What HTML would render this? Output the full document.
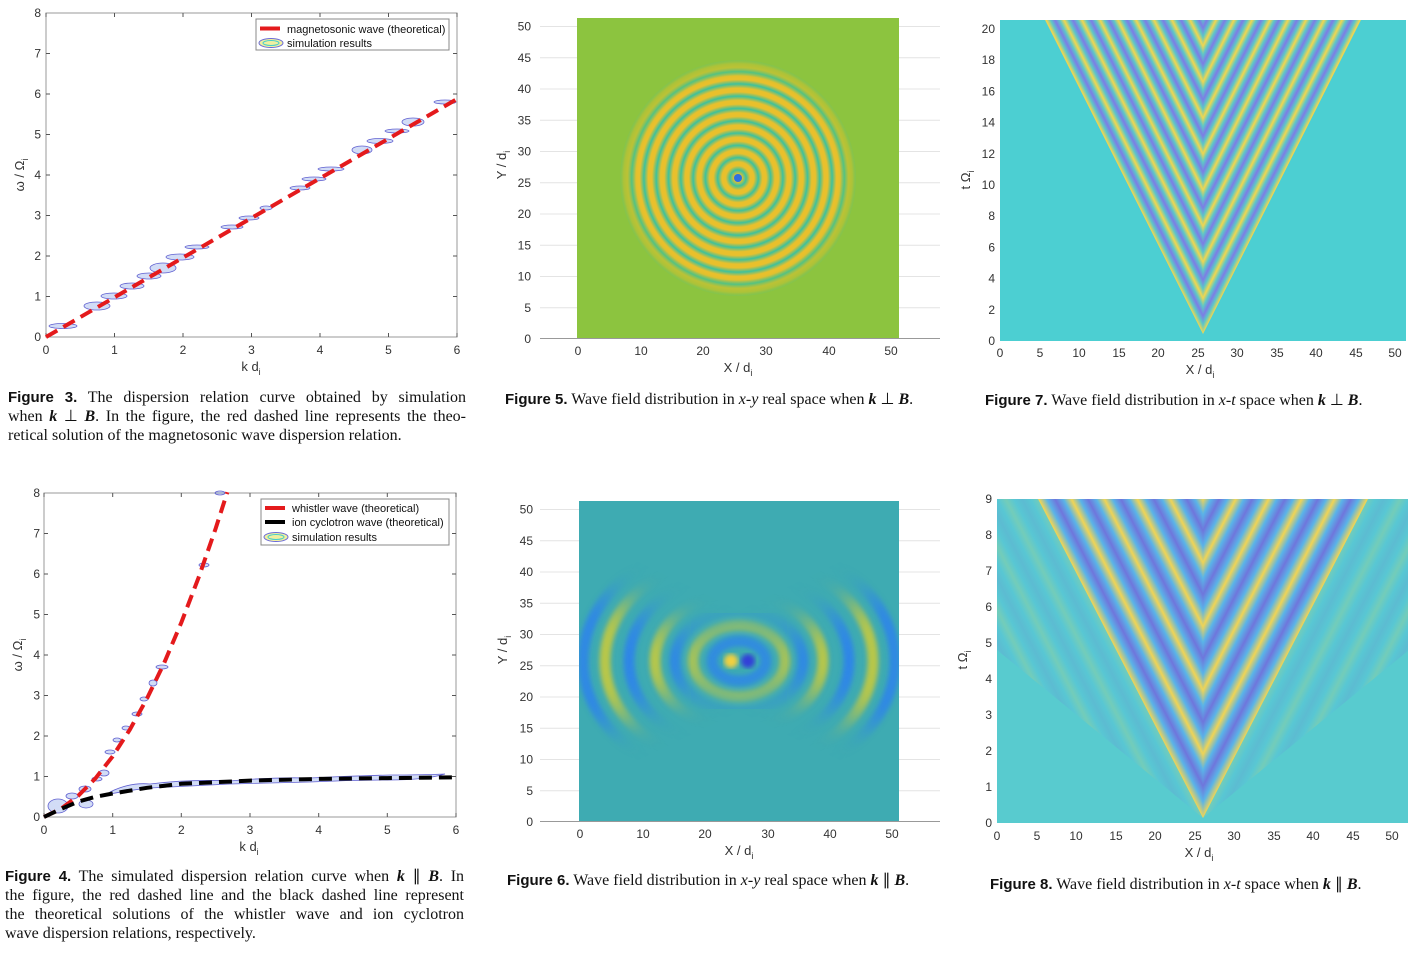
<!DOCTYPE html>
<html><head><meta charset="utf-8"><style>
html,body{margin:0;padding:0;background:#fff;}
body{width:1422px;height:953px;position:relative;overflow:hidden;}
svg{position:absolute;left:0;top:0;}
.cl{position:absolute;font-family:"Liberation Serif",serif;font-size:16px;line-height:19px;color:#111;text-align:justify;text-align-last:justify;white-space:nowrap;}
.cl.last{text-align-last:left;}
.cc{position:absolute;font-family:"Liberation Serif",serif;font-size:16px;line-height:19px;color:#111;white-space:nowrap;}
b.f{font-family:"Liberation Sans",sans-serif;font-size:15px;font-weight:bold;}
i{font-style:italic;}
.bi{font-weight:bold;font-style:italic;}
</style></head><body>
<svg width="1422" height="953" viewBox="0 0 1422 953" font-family="Liberation Sans, sans-serif">
<defs>
<radialGradient id="rings" gradientUnits="userSpaceOnUse" cx="738" cy="178" r="12.3" spreadMethod="repeat">
<stop offset="0" stop-color="#e9c02c"/><stop offset="0.3" stop-color="#e9c02c"/><stop offset="0.65" stop-color="#3dc19c"/><stop offset="1" stop-color="#e9c02c"/>
</radialGradient>
<radialGradient id="fade5" gradientUnits="userSpaceOnUse" cx="738" cy="178" r="122">
<stop offset="0.82" stop-color="#8cc43f" stop-opacity="0"/><stop offset="1" stop-color="#8cc43f" stop-opacity="1"/>
</radialGradient>
<linearGradient id="st7" gradientUnits="userSpaceOnUse" x1="1203" y1="334" x2="1217.4" y2="326.8" spreadMethod="repeat">
<stop offset="0" stop-color="#f2d64e"/><stop offset="0.25" stop-color="#5cc8c8"/><stop offset="0.5" stop-color="#7d7ce6"/><stop offset="0.75" stop-color="#5cc8c8"/><stop offset="1" stop-color="#f2d64e"/>
</linearGradient>
<linearGradient id="st8" gradientUnits="userSpaceOnUse" x1="1203" y1="818" x2="1229" y2="804.6" spreadMethod="repeat">
<stop offset="0" stop-color="#f0d455"/><stop offset="0.25" stop-color="#5ab4e8"/><stop offset="0.5" stop-color="#6f76dc"/><stop offset="0.75" stop-color="#5ab4e8"/><stop offset="1" stop-color="#f0d455"/>
</linearGradient>
<filter id="blur8"><feGaussianBlur stdDeviation="18"/></filter>
<filter id="blur2"><feGaussianBlur stdDeviation="2.5"/></filter>
<mask id="bow" maskUnits="userSpaceOnUse" x="560" y="480" width="360" height="360">
<polygon points="739,661 560,575 560,747" fill="#fff" filter="url(#blur8)"/>
<polygon points="739,661 918,575 918,747" fill="#fff" filter="url(#blur8)"/>
<circle cx="739" cy="661" r="40" fill="#fff" filter="url(#blur8)"/>
</mask>
<clipPath id="c6"><rect x="579" y="501" width="320" height="320"/></clipPath>
<clipPath id="c8"><rect x="997" y="499" width="411" height="324"/></clipPath>
</defs>

<!-- ========== Figure 3 ========== -->
<g>
<rect x="46" y="13" width="411" height="324" fill="#fff" stroke="#999" stroke-width="1"/>
<g stroke="#555" stroke-width="1">
<path d="M46,337v-4M114.5,337v-4M183,337v-4M251.5,337v-4M320,337v-4M388.5,337v-4M457,337v-4 M46,13v4M114.5,13v4M183,13v4M251.5,13v4M320,13v4M388.5,13v4M457,13v4"/>
<path d="M46,296.5h4M46,256h4M46,215.5h4M46,175h4M46,134.5h4M46,94h4M46,53.5h4 M457,296.5h-4M457,256h-4M457,215.5h-4M457,175h-4M457,134.5h-4M457,94h-4M457,53.5h-4"/>
</g>
<g font-size="12" fill="#333" text-anchor="end">
<text x="41" y="341">0</text><text x="41" y="300.5">1</text><text x="41" y="260">2</text><text x="41" y="219.5">3</text><text x="41" y="179">4</text><text x="41" y="138.5">5</text><text x="41" y="98">6</text><text x="41" y="57.5">7</text><text x="41" y="17">8</text>
</g>
<g font-size="12" fill="#333" text-anchor="middle">
<text x="46" y="354">0</text><text x="114.5" y="354">1</text><text x="183" y="354">2</text><text x="251.5" y="354">3</text><text x="320" y="354">4</text><text x="388.5" y="354">5</text><text x="457" y="354">6</text>
<text x="251" y="371" font-size="13">k d<tspan font-size="9" dy="4">i</tspan></text>
</g>
<text transform="translate(24,175) rotate(-90)" font-size="13" fill="#333" text-anchor="middle">ω / Ω<tspan font-size="9" dy="4">i</tspan></text>
<g fill="#6a8be0" fill-opacity="0.3" stroke="#6060d0" stroke-width="0.8">
<ellipse cx="63" cy="326" rx="14" ry="2.5"/><ellipse cx="97" cy="306" rx="13" ry="4"/><ellipse cx="114" cy="296" rx="13" ry="3"/><ellipse cx="132" cy="286" rx="12" ry="3"/><ellipse cx="149" cy="276" rx="12" ry="3"/><ellipse cx="163" cy="268" rx="13" ry="5"/><ellipse cx="180" cy="257" rx="14" ry="3"/><ellipse cx="197" cy="247" rx="12" ry="2"/><ellipse cx="232" cy="227" rx="11" ry="2"/><ellipse cx="249" cy="218" rx="10" ry="2"/><ellipse cx="266" cy="208" rx="6" ry="2"/><ellipse cx="300" cy="188" rx="10" ry="2"/><ellipse cx="314" cy="179" rx="12" ry="2"/><ellipse cx="331" cy="169" rx="13" ry="2"/><ellipse cx="362" cy="150" rx="10" ry="4"/><ellipse cx="380" cy="141" rx="13" ry="2.5"/><ellipse cx="397" cy="131" rx="12" ry="2"/><ellipse cx="413" cy="122" rx="11" ry="4"/><ellipse cx="445" cy="102" rx="11" ry="2"/>
</g>
<line x1="46" y1="337" x2="457" y2="99" stroke="#e41a1c" stroke-width="4" stroke-dasharray="13,7"/>
<rect x="256" y="19" width="193" height="31" fill="#fff" stroke="#888" stroke-width="1"/>
<line x1="260" y1="28.5" x2="280" y2="28.5" stroke="#e41a1c" stroke-width="4"/>
<ellipse cx="271" cy="43" rx="12" ry="4.5" fill="#f0f0a0" stroke="#6a6ad8" stroke-width="1"/>
<ellipse cx="271" cy="43" rx="8" ry="2.5" fill="none" stroke="#4cc" stroke-width="1"/>
<text x="287" y="33" font-size="11" fill="#111">magnetosonic wave (theoretical)</text>
<text x="287" y="47" font-size="11" fill="#111">simulation results</text>
</g>

<!-- ========== Figure 4 ========== -->
<g>
<rect x="44" y="493" width="412" height="324" fill="#fff" stroke="#999" stroke-width="1"/>
<g stroke="#555" stroke-width="1">
<path d="M44,817v-4M112.7,817v-4M181.3,817v-4M250,817v-4M318.7,817v-4M387.3,817v-4M456,817v-4 M44,493v4M112.7,493v4M181.3,493v4M250,493v4M318.7,493v4M387.3,493v4M456,493v4"/>
<path d="M44,776.5h4M44,736h4M44,695.5h4M44,655h4M44,614.5h4M44,574h4M44,533.5h4 M456,776.5h-4M456,736h-4M456,695.5h-4M456,655h-4M456,614.5h-4M456,574h-4M456,533.5h-4"/>
</g>
<g font-size="12" fill="#333" text-anchor="end">
<text x="40" y="821">0</text><text x="40" y="780.5">1</text><text x="40" y="740">2</text><text x="40" y="699.5">3</text><text x="40" y="659">4</text><text x="40" y="618.5">5</text><text x="40" y="578">6</text><text x="40" y="537.5">7</text><text x="40" y="497">8</text>
</g>
<g font-size="12" fill="#333" text-anchor="middle">
<text x="44" y="834">0</text><text x="112.7" y="834">1</text><text x="181.3" y="834">2</text><text x="250" y="834">3</text><text x="318.7" y="834">4</text><text x="387.3" y="834">5</text><text x="456" y="834">6</text>
<text x="249" y="851" font-size="13">k d<tspan font-size="9" dy="4">i</tspan></text>
</g>
<text transform="translate(22,655) rotate(-90)" font-size="13" fill="#333" text-anchor="middle">ω / Ω<tspan font-size="9" dy="4">i</tspan></text>
<g fill="#6a8be0" fill-opacity="0.3" stroke="#6060d0" stroke-width="0.8">
<ellipse cx="58" cy="806" rx="10" ry="7"/><ellipse cx="72" cy="796" rx="6" ry="3"/><ellipse cx="85" cy="789" rx="6" ry="3"/><ellipse cx="86" cy="804" rx="7" ry="4"/><ellipse cx="97" cy="779" rx="5" ry="2"/><ellipse cx="104" cy="773" rx="5" ry="3"/><ellipse cx="110" cy="752" rx="5" ry="2"/><ellipse cx="117" cy="740" rx="4" ry="2"/><ellipse cx="126" cy="728" rx="4" ry="2"/><ellipse cx="137" cy="714" rx="5" ry="2"/><ellipse cx="144" cy="699" rx="4" ry="2"/><ellipse cx="153" cy="683" rx="4" ry="3"/><ellipse cx="162" cy="667" rx="6" ry="2"/><ellipse cx="204" cy="565" rx="5" ry="2"/><ellipse cx="220" cy="493" rx="5" ry="2"/>
<path d="M110,792 q20,-10 40,-8 q40,-5 80,-3 q40,-4 80,-3 q40,-2 80,-3 q30,0 55,-1 q-20,6 -55,6 q-40,0 -80,2 q-40,1 -80,2 q-40,2 -80,4 q-20,2 -40,6z"/>
</g>
<polyline points="44,817 61.2,808.7 78.3,795.7 95.5,778.3 112.7,756.3 129.8,729.7 147,698.5 164.2,662.9 181.3,622.6 198.5,577.8 215.7,528.4 227.3,492.2" fill="none" stroke="#e41a1c" stroke-width="4" stroke-dasharray="13,7"/>
<polyline points="44,817 61.2,808.9 78.3,801.6 95.5,796.8 112.7,793.5 147,787.8 181.3,783.8 250,780.6 318.7,778.9 387.4,778.1 456,777.3" fill="none" stroke="#000" stroke-width="4" stroke-dasharray="13,7"/>
<rect x="261" y="499" width="188" height="46" fill="#fff" stroke="#888" stroke-width="1"/>
<line x1="265" y1="508" x2="285" y2="508" stroke="#e41a1c" stroke-width="4"/>
<line x1="265" y1="522" x2="285" y2="522" stroke="#000" stroke-width="4"/>
<ellipse cx="276" cy="537" rx="12" ry="4.5" fill="#f0f0a0" stroke="#6a6ad8" stroke-width="1"/>
<ellipse cx="276" cy="537" rx="8" ry="2.5" fill="none" stroke="#4cc" stroke-width="1"/>
<text x="292" y="512" font-size="11" fill="#111">whistler wave (theoretical)</text>
<text x="292" y="526" font-size="11" fill="#111">ion cyclotron wave (theoretical)</text>
<text x="292" y="541" font-size="11" fill="#111">simulation results</text>
</g>

<!-- ========== Figure 5 ========== -->
<g>
<g stroke="#e4e4e4" stroke-width="1">
<path d="M540,26.5h400M540,57.8h400M540,89h400M540,120.3h400M540,151.5h400M540,182.8h400M540,214h400M540,245.3h400M540,276.5h400M540,307.8h400"/>
</g>
<line x1="540" y1="338.5" x2="940" y2="338.5" stroke="#999"/>
<rect x="577" y="18" width="322" height="320" fill="#8cc43f"/>
<circle cx="738" cy="178" r="118" fill="url(#rings)"/>
<circle cx="738" cy="178" r="122" fill="url(#fade5)"/>
<circle cx="738" cy="178" r="4" fill="#2f6fe0"/>
<g font-size="12" fill="#333" text-anchor="end">
<text x="531" y="343">0</text><text x="531" y="312">5</text><text x="531" y="280.5">10</text><text x="531" y="249.5">15</text><text x="531" y="218">20</text><text x="531" y="187">25</text><text x="531" y="155.5">30</text><text x="531" y="124.5">35</text><text x="531" y="93">40</text><text x="531" y="62">45</text><text x="531" y="30.5">50</text>
</g>
<g font-size="12" fill="#333" text-anchor="middle">
<text x="578" y="355">0</text><text x="641" y="355">10</text><text x="703" y="355">20</text><text x="766" y="355">30</text><text x="829" y="355">40</text><text x="891" y="355">50</text>
<text x="738" y="372" font-size="13">X / d<tspan font-size="9" dy="4">i</tspan></text>
</g>
<text transform="translate(506,165) rotate(-90)" font-size="13" fill="#333" text-anchor="middle">Y / d<tspan font-size="9" dy="4">i</tspan></text>
</g>

<!-- ========== Figure 6 ========== -->
<g>
<g stroke="#e4e4e4" stroke-width="1">
<path d="M540,509.5h400M540,540.8h400M540,572h400M540,603.3h400M540,634.5h400M540,665.8h400M540,697h400M540,728.3h400M540,759.5h400M540,790.8h400"/>
</g>
<line x1="540" y1="821.5" x2="940" y2="821.5" stroke="#999"/>
<rect x="579" y="501" width="320" height="320" fill="#3eabb2"/>
<g clip-path="url(#c6)" mask="url(#bow)" fill="none" stroke-width="11" filter="url(#blur2)">
<ellipse cx="739" cy="661" rx="27" ry="20" stroke="#2f86e6"/>
<ellipse cx="739" cy="661" rx="46" ry="36" stroke="#b8c64a"/>
<ellipse cx="739" cy="661" rx="64" ry="52" stroke="#2f86e6"/>
<ellipse cx="739" cy="661" rx="84" ry="68" stroke="#b8c64a"/>
<ellipse cx="739" cy="661" rx="110" ry="88" stroke="#2f86e6"/>
<ellipse cx="739" cy="661" rx="134" ry="106" stroke="#b8c64a"/>
<ellipse cx="739" cy="661" rx="156" ry="122" stroke="#2f86e6"/>
</g>
<circle cx="731" cy="661" r="7" fill="#f0d040" filter="url(#blur2)"/>
<circle cx="748" cy="661" r="7" fill="#3040d8" filter="url(#blur2)"/>
<g font-size="12" fill="#333" text-anchor="end">
<text x="533" y="826">0</text><text x="533" y="795">5</text><text x="533" y="763.5">10</text><text x="533" y="732.5">15</text><text x="533" y="701">20</text><text x="533" y="670">25</text><text x="533" y="638.5">30</text><text x="533" y="607.5">35</text><text x="533" y="576">40</text><text x="533" y="545">45</text><text x="533" y="513.5">50</text>
</g>
<g font-size="12" fill="#333" text-anchor="middle">
<text x="580" y="838">0</text><text x="643" y="838">10</text><text x="705" y="838">20</text><text x="768" y="838">30</text><text x="830" y="838">40</text><text x="892" y="838">50</text>
<text x="739" y="855" font-size="13">X / d<tspan font-size="9" dy="4">i</tspan></text>
</g>
<text transform="translate(507,650) rotate(-90)" font-size="13" fill="#333" text-anchor="middle">Y / d<tspan font-size="9" dy="4">i</tspan></text>
</g>

<!-- ========== Figure 7 ========== -->
<g>
<rect x="1000" y="20" width="406" height="321" fill="#4ccfd2"/>
<polygon points="1203,334 1045,20 1203,20" fill="url(#st7)"/>
<g transform="translate(2406,0) scale(-1,1)">
<polygon points="1203,334 1045,20 1203,20" fill="url(#st7)"/>
</g>
<g font-size="12" fill="#333" text-anchor="end">
<text x="995" y="345">0</text><text x="995" y="314">2</text><text x="995" y="282.5">4</text><text x="995" y="251.5">6</text><text x="995" y="220">8</text><text x="995" y="189">10</text><text x="995" y="158">12</text><text x="995" y="126.5">14</text><text x="995" y="95.5">16</text><text x="995" y="64">18</text><text x="995" y="33">20</text>
</g>
<g font-size="12" fill="#333" text-anchor="middle">
<text x="1000" y="357">0</text><text x="1040" y="357">5</text><text x="1079" y="357">10</text><text x="1119" y="357">15</text><text x="1158" y="357">20</text><text x="1198" y="357">25</text><text x="1237" y="357">30</text><text x="1277" y="357">35</text><text x="1316" y="357">40</text><text x="1356" y="357">45</text><text x="1395" y="357">50</text>
<text x="1200" y="374" font-size="13">X / d<tspan font-size="9" dy="4">i</tspan></text>
</g>
<text transform="translate(970,180) rotate(-90)" font-size="13" fill="#333" text-anchor="middle">t Ω<tspan font-size="9" dy="4">i</tspan></text>
</g>

<!-- ========== Figure 8 ========== -->
<g>
<rect x="997" y="499" width="411" height="324" fill="#58cbcf"/>
<g clip-path="url(#c8)">
<polygon points="1203,818 997,650 997,499 1203,499" fill="url(#st8)" opacity="0.18"/>
<polygon points="1203,818 1038,499 1203,499" fill="url(#st8)"/>
<g transform="translate(2406,0) scale(-1,1)">
<polygon points="1203,818 997,650 997,499 1203,499" fill="url(#st8)" opacity="0.18"/>
<polygon points="1203,818 1038,499 1203,499" fill="url(#st8)"/>
</g>
</g>
<g font-size="12" fill="#333" text-anchor="end">
<text x="992" y="827">0</text><text x="992" y="791">1</text><text x="992" y="755">2</text><text x="992" y="719">3</text><text x="992" y="683">4</text><text x="992" y="647">5</text><text x="992" y="611">6</text><text x="992" y="575">7</text><text x="992" y="539">8</text><text x="992" y="503">9</text>
</g>
<g font-size="12" fill="#333" text-anchor="middle">
<text x="997" y="840">0</text><text x="1037" y="840">5</text><text x="1076" y="840">10</text><text x="1116" y="840">15</text><text x="1155" y="840">20</text><text x="1195" y="840">25</text><text x="1234" y="840">30</text><text x="1274" y="840">35</text><text x="1313" y="840">40</text><text x="1353" y="840">45</text><text x="1392" y="840">50</text>
<text x="1199" y="857" font-size="13">X / d<tspan font-size="9" dy="4">i</tspan></text>
</g>
<text transform="translate(967,660) rotate(-90)" font-size="13" fill="#333" text-anchor="middle">t Ω<tspan font-size="9" dy="4">i</tspan></text>
</g>
</svg>

<!-- Captions -->
<div class="cl" style="left:8px;top:388px;width:458px;"><b class="f">Figure 3.</b> The dispersion relation curve obtained by simulation</div>
<div class="cl" style="left:8px;top:407px;width:458px;">when <span class="bi">k</span> ⊥ <span class="bi">B</span>. In the figure, the red dashed line represents the theo-</div>
<div class="cl last" style="left:8px;top:426px;width:458px;">retical solution of the magnetosonic wave dispersion relation.</div>

<div class="cl" style="left:5px;top:867px;width:459px;"><b class="f">Figure 4.</b> The simulated dispersion relation curve when <span class="bi">k</span> ∥ <span class="bi">B</span>. In</div>
<div class="cl" style="left:5px;top:886px;width:459px;">the figure, the red dashed line and the black dashed line represent</div>
<div class="cl" style="left:5px;top:905px;width:459px;">the theoretical solutions of the whistler wave and ion cyclotron</div>
<div class="cl last" style="left:5px;top:924px;width:459px;">wave dispersion relations, respectively.</div>

<div class="cc" style="left:505px;top:390px;"><b class="f">Figure 5.</b> Wave field distribution in <i>x-y</i> real space when <span class="bi">k</span> ⊥ <span class="bi">B</span>.</div>
<div class="cc" style="left:507px;top:871px;"><b class="f">Figure 6.</b> Wave field distribution in <i>x-y</i> real space when <span class="bi">k</span> ∥ <span class="bi">B</span>.</div>
<div class="cc" style="left:985px;top:391px;"><b class="f">Figure 7.</b> Wave field distribution in <i>x-t</i> space when <span class="bi">k</span> ⊥ <span class="bi">B</span>.</div>
<div class="cc" style="left:990px;top:875px;"><b class="f">Figure 8.</b> Wave field distribution in <i>x-t</i> space when <span class="bi">k</span> ∥ <span class="bi">B</span>.</div>
</body></html>
